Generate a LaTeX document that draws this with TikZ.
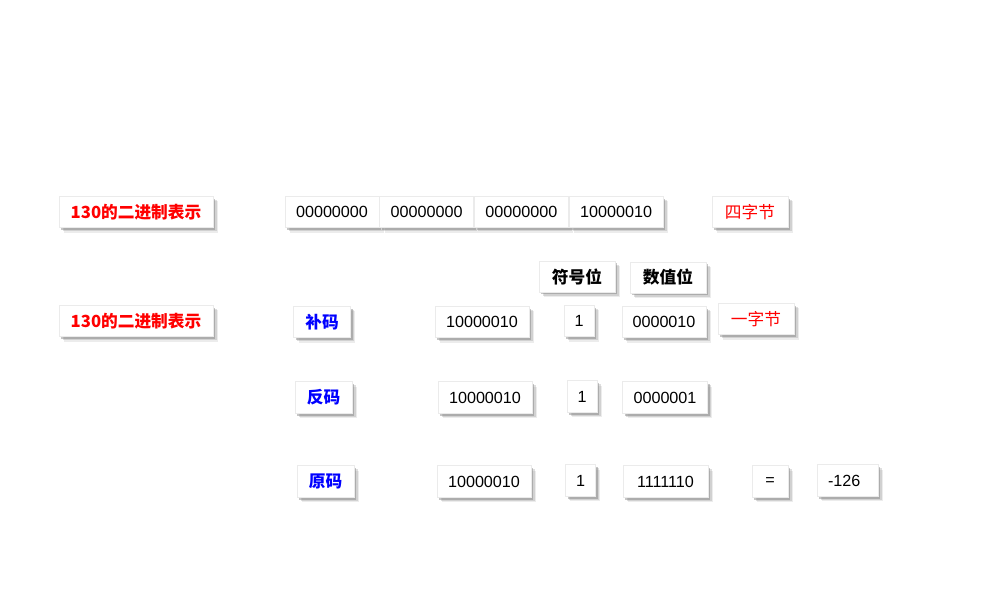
\documentclass[tikz,border=0pt]{standalone}
\usepackage{fontspec}
\setmainfont{Liberation Sans}
\newfontfamily\cjk{Noto Sans CJK SC}
\usetikzlibrary{positioning,shadows}

\begin{document}
\begin{tikzpicture}[
  cell/.style={fill=white,draw=black!8,inner sep=0pt,minimum height=0.63cm,
               font=\fontsize{9.2}{10}\selectfont,
               drop shadow={shadow xshift=2.8pt,shadow yshift=-2.8pt,opacity=0.15},
               drop shadow={shadow xshift=2.1pt,shadow yshift=-2.1pt,opacity=0.25},
               drop shadow={shadow xshift=1.3pt,shadow yshift=-1.3pt,opacity=0.45}},
  hz/.style={cell,font=\cjk\fontsize{9.5}{11}\selectfont},
  hzb/.style={cell,font=\cjk\bfseries\fontsize{9.5}{11}\selectfont},
  wide/.style={minimum width=1.88cm},
]
\useasboundingbox (0,0) rectangle (20,12);

% Row 0: four bytes
\node[hzb,text=red,minimum width=3.08cm] (T1) at (2.72,7.76) {130的二进制表示};
\node[cell,wide] (B1) at (6.64,7.76) {00000000};
\node[cell,wide,right=0pt of B1] (B2) {00000000};
\node[cell,wide,right=0pt of B2] (B3) {00000000};
\node[cell,wide,right=0pt of B3] (B4) {10000010};
\node[hz,text=red,minimum width=1.52cm] (W4) at (15.0,7.76) {四字节};

% Headers
\node[hzb,minimum width=1.52cm,minimum height=0.62cm] (H1) at (11.54,6.47) {符号位};
\node[hzb,minimum width=1.52cm,minimum height=0.62cm] (H2) at (13.36,6.45) {数值位};

% Row 1: complement
\node[hzb,text=red,minimum width=3.08cm] (T2) at (2.72,5.58) {130的二进制表示};
\node[hzb,text=blue,minimum width=1.13cm] (C0) at (6.44,5.56) {补码};
\node[cell,wide] (C1) at (9.64,5.56) {10000010};
\node[cell,minimum width=0.6cm] (C2) at (11.58,5.58) {1};
\node[cell,minimum width=1.68cm] (C3) at (13.28,5.56) {0000010};
\node[hz,text=red,minimum width=1.52cm] (W1) at (15.12,5.62) {一字节};

% Row 2: ones' complement
\node[hzb,text=blue,minimum width=1.14cm] (R0) at (6.47,4.05) {反码};
\node[cell,wide] (R1) at (9.70,4.05) {10000010};
\node[cell,minimum width=0.6cm] (R2) at (11.64,4.07) {1};
\node[cell,minimum width=1.69cm] (R3) at (13.30,4.05) {0000001};

% Row 3: sign-magnitude
\node[hzb,text=blue,minimum width=1.14cm] (S0) at (6.51,2.37) {原码};
\node[cell,wide] (S1) at (9.68,2.37) {10000010};
\node[cell,minimum width=0.6cm] (S2) at (11.61,2.39) {1};
\node[cell,minimum width=1.70cm] (S3) at (13.31,2.37) {1111110};
\node[cell,minimum width=0.72cm] (EQ) at (15.40,2.37) {=};
\node[cell,text width=0.78cm,inner xsep=0.22cm,align=left] (V) at (16.95,2.39) {-126};

\end{tikzpicture}
\end{document}
